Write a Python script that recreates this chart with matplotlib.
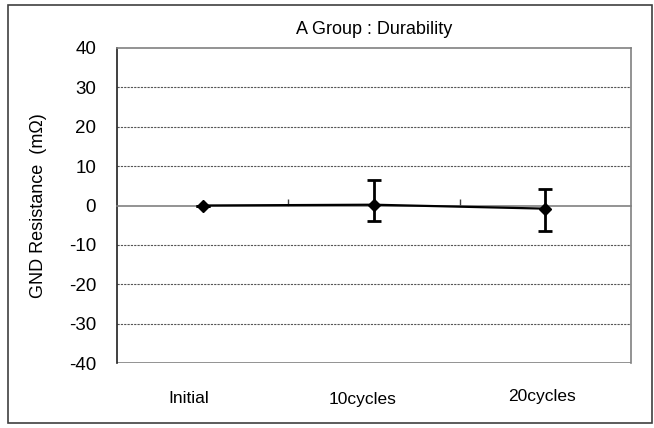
import matplotlib.pyplot as plt
from matplotlib.patches import Rectangle
from matplotlib.transforms import blended_transform_factory

plt.rcParams['font.family'] = ['Liberation Sans', 'DejaVu Sans']
plt.rcParams['axes.unicode_minus'] = False

stages = ['Initial', '10cycles', '20cycles']
mean_res = [0.0, 0.2, -0.8]
err_low = [0.0, 4.1, 5.6]
err_high = [0.0, 6.4, 4.9]
y_ticks = [-40, -30, -20, -10, 0, 10, 20, 30, 40]

fig = plt.figure(figsize=(6.54, 4.28), dpi=100)
ax = fig.add_axes([117/654, 65/428, 514/654, 315/428])

# frame round the whole chart
fig.patches.append(Rectangle((8/654, 5/428), 644/654, 418/428, transform=fig.transFigure,
                             fill=False, edgecolor='#404040', lw=1.2))

x = list(range(len(stages)))
ax.errorbar(x, mean_res, yerr=[err_low, err_high], color='black', lw=1.6,
            marker='D', markersize=6, elinewidth=2, capsize=5, capthick=2, zorder=5)

ax.set_xlim(-0.5, 2.5)
ax.set_ylim(-40, 40)
ax.set_yticks(y_ticks)
ax.tick_params(axis='y', labelsize=13.5, length=0, pad=15)

for v in y_ticks:
    if v not in (0, -40, 40):
        ax.axhline(v, color='#555555', lw=0.8, ls=(0, (2, 1)), zorder=1)

# category axis drawn on the zero line
ax.spines['bottom'].set_position(('data', 0))
ax.spines['bottom'].set_color('#808080')
ax.set_xticks([0.5, 1.5])
ax.set_xticklabels([])
ax.tick_params(axis='x', direction='in', length=5, width=1, color='#404040')
ax.axhline(-40, color='#808080', lw=1.2, zorder=1)
ax.spines['top'].set_color('#808080')
ax.spines['right'].set_color('#808080')
ax.spines['left'].set_color('#202020')
for s in ax.spines.values():
    s.set_linewidth(1.2)

trans = blended_transform_factory(ax.transData, ax.transAxes)
label_dx = [-0.08, -0.065, -0.02]
label_y = [-0.114, -0.117, -0.105]
for xi, name, dx, ly in zip(x, stages, label_dx, label_y):
    ax.text(xi + dx, ly, name, transform=trans, ha='center', va='center', fontsize=12.5)

ax.set_ylabel('GND Resistance  (m\u03a9)', fontsize=13)
ax.yaxis.set_label_coords(-0.136, 0.5)
ax.set_title('A Group : Durability', fontsize=13, pad=10)

fig.savefig('out.png', dpi=100)
